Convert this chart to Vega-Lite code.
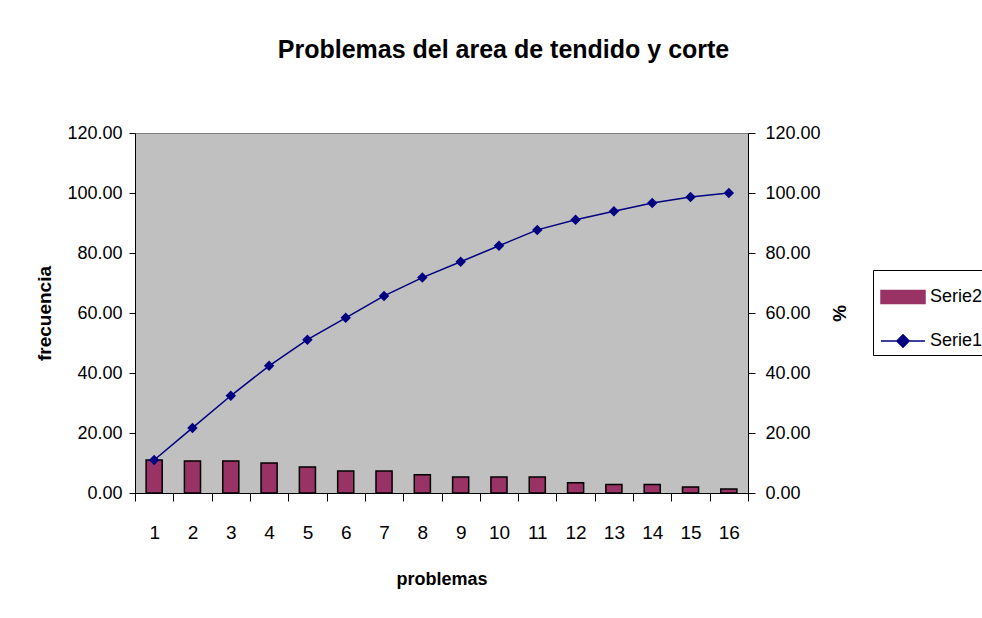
{
  "$schema": "https://vega.github.io/schema/vega-lite/v6.json",
  "width": 613,
  "height": 360,
  "autosize": {"type": "none"},
  "padding": {"left": 135, "top": 133, "right": 234, "bottom": 125},
  "background": "white",
  "title": {
    "text": "Problemas del area de tendido y corte",
    "font": "Liberation Sans",
    "fontSize": 25,
    "fontWeight": "bold",
    "color": "black",
    "anchor": "middle",
    "dx": 62,
    "offset": 61
  },
  "data": {
    "values": [
      {"problema": 1, "frecuencia": 11.0, "acumulado": 11.0},
      {"problema": 2, "frecuencia": 10.7, "acumulado": 21.7},
      {"problema": 3, "frecuencia": 10.7, "acumulado": 32.4},
      {"problema": 4, "frecuencia": 10.0, "acumulado": 42.4},
      {"problema": 5, "frecuencia": 8.7, "acumulado": 51.1},
      {"problema": 6, "frecuencia": 7.3, "acumulado": 58.4},
      {"problema": 7, "frecuencia": 7.3, "acumulado": 65.7},
      {"problema": 8, "frecuencia": 6.1, "acumulado": 71.8},
      {"problema": 9, "frecuencia": 5.3, "acumulado": 77.1},
      {"problema": 10, "frecuencia": 5.3, "acumulado": 82.4},
      {"problema": 11, "frecuencia": 5.3, "acumulado": 87.7},
      {"problema": 12, "frecuencia": 3.4, "acumulado": 91.1},
      {"problema": 13, "frecuencia": 2.8, "acumulado": 93.9},
      {"problema": 14, "frecuencia": 2.8, "acumulado": 96.7},
      {"problema": 15, "frecuencia": 2.0, "acumulado": 98.7},
      {"problema": 16, "frecuencia": 1.3, "acumulado": 100.0}
    ]
  },
  "encoding": {
    "x": {
      "field": "problema",
      "type": "ordinal",
      "scale": {"paddingInner": 0, "paddingOuter": 0},
      "axis": {
        "title": "problemas",
        "labelAngle": 0,
        "tickBand": "extent",
        "tickSize": 8,
        "tickColor": "#000000",
        "domainColor": "#000000",
        "labelPadding": 22,
        "labelFont": "Liberation Sans",
        "labelFontSize": 19,
        "labelColor": "black",
        "titleFont": "Liberation Sans",
        "titleFontSize": 18,
        "titleFontWeight": "bold",
        "titleColor": "black",
        "titlePadding": 28
      }
    }
  },
  "layer": [
    {
      "mark": {"type": "bar", "width": {"band": 0.42}, "stroke": "black", "strokeWidth": 1.5},
      "encoding": {
        "y": {
          "field": "frecuencia",
          "type": "quantitative",
          "scale": {"domain": [0, 120], "nice": false},
          "axis": {
            "title": "frecuencia",
            "values": [0, 20, 40, 60, 80, 100, 120],
            "format": ".2f",
            "grid": false,
            "tickSize": 6,
            "tickColor": "#000000",
            "domainColor": "#000000",
            "labelPadding": 7,
            "labelFont": "Liberation Sans",
            "labelFontSize": 18,
            "labelColor": "black",
            "titleFont": "Liberation Sans",
            "titleFontSize": 19,
            "titleFontWeight": "bold",
            "titleColor": "black",
            "titlePadding": 12
          }
        },
        "color": {
          "datum": "Serie2",
          "type": "nominal",
          "scale": {"domain": ["Serie2", "Serie1"], "range": ["#993366", "#000080"]},
          "legend": {
            "orient": "none",
            "legendX": 738,
            "legendY": 137,
            "title": null,
            "strokeColor": "black",
            "fillColor": "white",
            "padding": 4,
            "symbolOffset": 3,
            "labelOffset": 4,
            "symbolSize": 1936,
            "symbolStrokeWidth": 1.5,
            "rowPadding": 11,
            "labelFont": "Liberation Sans",
            "labelFontSize": 18,
            "labelColor": "black",
            "encode": {
              "symbols": {
                "update": {
                  "shape": {"signal": "datum.value === 'Serie2' ? 'M-1,-0.3H1V0.3H-1Z' : 'M-1,0H1M0,-0.28L0.28,0L0,0.28L-0.28,0Z'"},
                  "fill": {"signal": "datum.value === 'Serie2' ? '#993366' : '#000080'"},
                  "stroke": {"signal": "datum.value === 'Serie2' ? '#000000' : '#000080'"},
                  "strokeWidth": {"value": 1.5},
                  "strokeOpacity": {"value": 1},
                  "opacity": {"value": 1},
                  "fillOpacity": {"value": 1}
                }
              }
            }
          }
        }
      }
    },
    {
      "mark": {
        "type": "line",
        "strokeWidth": 1.5,
        "point": {"shape": "diamond", "size": 110, "filled": true, "color": "#000080", "opacity": 1}
      },
      "encoding": {
        "y": {
          "field": "acumulado",
          "type": "quantitative",
          "scale": {"domain": [0, 120], "nice": false},
          "axis": {
            "title": "%",
            "orient": "right",
            "values": [0, 20, 40, 60, 80, 100, 120],
            "format": ".2f",
            "grid": false,
            "tickSize": 7,
            "tickColor": "#000000",
            "domainColor": "#000000",
            "labelPadding": 10,
            "labelFont": "Liberation Sans",
            "labelFontSize": 18,
            "labelColor": "black",
            "titleFont": "Liberation Sans",
            "titleFontSize": 19,
            "titleFontWeight": "bold",
            "titleColor": "black",
            "titlePadding": 8
          }
        },
        "color": {
          "datum": "Serie1",
          "type": "nominal",
          "legend": {
            "orient": "none",
            "legendX": 738,
            "legendY": 137,
            "title": null,
            "strokeColor": "black",
            "fillColor": "white",
            "padding": 4,
            "symbolOffset": 3,
            "labelOffset": 4,
            "symbolSize": 1936,
            "symbolStrokeWidth": 1.5,
            "rowPadding": 11,
            "labelFont": "Liberation Sans",
            "labelFontSize": 18,
            "labelColor": "black",
            "encode": {
              "symbols": {
                "update": {
                  "shape": {"signal": "datum.value === 'Serie2' ? 'M-1,-0.3H1V0.3H-1Z' : 'M-1,0H1M0,-0.28L0.28,0L0,0.28L-0.28,0Z'"},
                  "fill": {"signal": "datum.value === 'Serie2' ? '#993366' : '#000080'"},
                  "stroke": {"signal": "datum.value === 'Serie2' ? '#000000' : '#000080'"},
                  "strokeWidth": {"value": 1.5},
                  "strokeOpacity": {"value": 1},
                  "opacity": {"value": 1},
                  "fillOpacity": {"value": 1}
                }
              }
            }
          }
        }
      }
    }
  ],
  "resolve": {"scale": {"y": "independent"}},
  "config": {
    "view": {"fill": "#C0C0C0", "stroke": "#808080", "strokeWidth": 1},
    "axis": {"domainWidth": 1, "tickWidth": 1}
  }
}
